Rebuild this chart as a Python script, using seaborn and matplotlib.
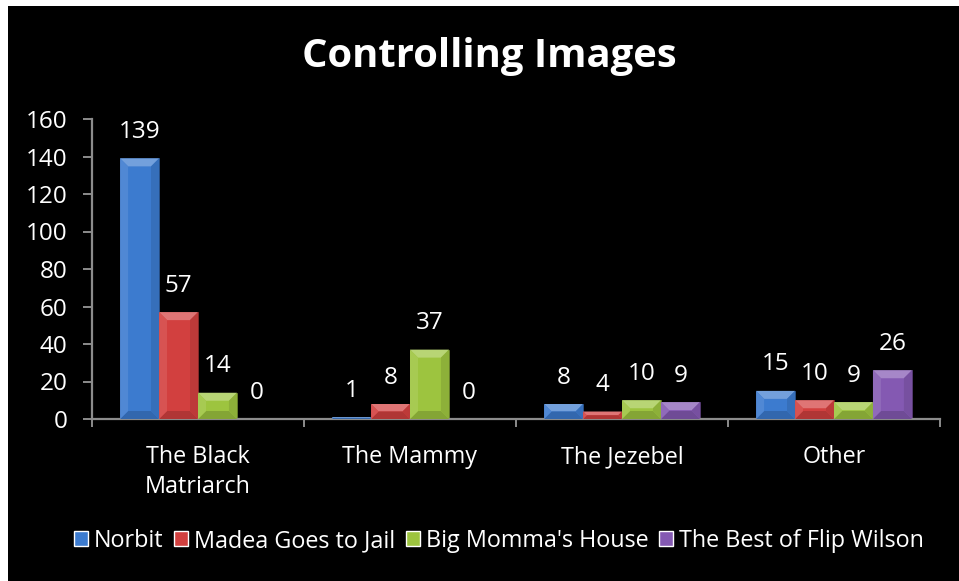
import matplotlib
matplotlib.use("Agg")
import matplotlib.pyplot as plt
from matplotlib.patches import Polygon, Rectangle
from matplotlib.transforms import IdentityTransform
from matplotlib import colors as mcolors
import numpy as np
import pandas as pd
import seaborn as sns

categories = ["The Black\nMatriarch", "The Mammy", "The Jezebel", "Other"]
films = ["Norbit", "Madea Goes to Jail", "Big Momma's House", "The Best of Flip Wilson"]
norbit = [139, 1, 8, 15]
madea = [57, 8, 4, 10]
big_momma = [14, 37, 10, 9]
flip_wilson = [0, 0, 9, 26]
film_colors = ["#3C7BCF", "#D2403F", "#9DC43F", "#8459B2"]

series = [norbit, madea, big_momma, flip_wilson]
df = pd.DataFrame(
    [(c, f, v) for f, vals in zip(films, series) for c, v in zip(categories, vals)],
    columns=["category", "film", "count"],
)

sns.set_theme(style="dark")
plt.rcParams["font.family"] = ["Open Sans", "DejaVu Sans"]

W, H, DPI = 959, 581, 100
fig = plt.figure(figsize=(W / DPI, H / DPI), dpi=DPI, facecolor="white")
# black slide background with a thin white margin at the top and left
fig.patches.append(Rectangle((8 / W, 0), 1, 1 - 6 / H, transform=fig.transFigure,
                             facecolor="black", edgecolor="none", zorder=-10))

ax = fig.add_axes([92 / W, 1 - 419 / H, 848 / W, 300 / H])
ax.set_facecolor("none")

sns.barplot(data=df, x="category", y="count", hue="film", hue_order=films,
            palette=film_colors, saturation=1, width=0.735, gap=0,
            errorbar=None, ax=ax, legend=True)

ax.set_ylim(0, 160)
ax.set_xlim(-0.5, 3.5)
ax.set_yticks(np.arange(0, 161, 20))
ax.set_xlabel("")
ax.set_ylabel("")
ax.grid(False)

grey = "#8C8C8C"
for side in ["top", "right"]:
    ax.spines[side].set_visible(False)
for side in ["left", "bottom"]:
    ax.spines[side].set_visible(True)
    ax.spines[side].set_color(grey)
    ax.spines[side].set_linewidth(1.6)

label_size = 16.8
ax.tick_params(axis="y", colors=grey, labelcolor="white", labelsize=17.5,
               length=6.5, width=1.4, direction="out", pad=11, left=True)
ax.tick_params(axis="x", which="major", length=0, labelcolor="white",
               labelsize=label_size, pad=19)
ax.set_xticks(np.arange(-0.5, 4, 1), minor=True)
ax.tick_params(axis="x", which="minor", colors=grey, length=6, width=1.4,
               direction="out", bottom=True)
for t in ax.get_xticklabels():
    t.set_linespacing(1.3)

# bevelled bar faces plus value labels
fig.canvas.draw()
to_disp = ax.transData.transform
for container, col in zip(ax.containers, film_colors):
    base = np.array(mcolors.to_rgb(col))
    light = np.clip(base + (1 - base) * 0.28, 0, 1)
    lighter = np.clip(base + (1 - base) * 0.10, 0, 1)
    dark = base * 0.84
    darker = base * 0.90
    for bar, val in zip(container.patches, container.datavalues):
        bar.set_edgecolor(base * 0.65)
        bar.set_linewidth(0.6)
        x0, y0 = to_disp((bar.get_x(), 0))
        x1, y1 = to_disp((bar.get_x() + bar.get_width(), bar.get_height()))
        d = min(8.0, (x1 - x0) / 2, (y1 - y0) / 2)
        if d > 0.3:
            faces = [
                ([(x0, y1), (x1, y1), (x1 - d, y1 - d), (x0 + d, y1 - d)], light),
                ([(x0, y0), (x1, y0), (x1 - d, y0 + d), (x0 + d, y0 + d)], dark),
                ([(x0, y0), (x0, y1), (x0 + d, y1 - d), (x0 + d, y0 + d)], lighter),
                ([(x1, y0), (x1, y1), (x1 - d, y1 - d), (x1 - d, y0 + d)], darker),
            ]
            for pts, fc in faces:
                ax.add_patch(Polygon(pts, closed=True, facecolor=fc, edgecolor="none",
                                     transform=IdentityTransform(), zorder=3))
        ax.annotate(f"{val:g}", (bar.get_x() + bar.get_width() / 2, bar.get_height()),
                    xytext=(0, 19), textcoords="offset points", ha="center",
                    va="center", color="white", fontsize=17.5, zorder=4)

leg = ax.get_legend()
handles = leg.legend_handles
leg.remove()
fig.legend(handles, films, loc="center", bbox_to_anchor=(499 / W, 1 - 541 / H),
           ncol=4, frameon=False, fontsize=label_size, labelcolor="white",
           handlelength=0.6, handleheight=0.6, handletextpad=0.25,
           columnspacing=0.45, borderaxespad=0)

fig.text(489 / W, 1 - 57 / H, "Controlling Images", ha="center", va="center",
         color="white", fontsize=28.8, fontweight="bold")

fig.savefig("out.png", dpi=DPI, facecolor=fig.get_facecolor())
